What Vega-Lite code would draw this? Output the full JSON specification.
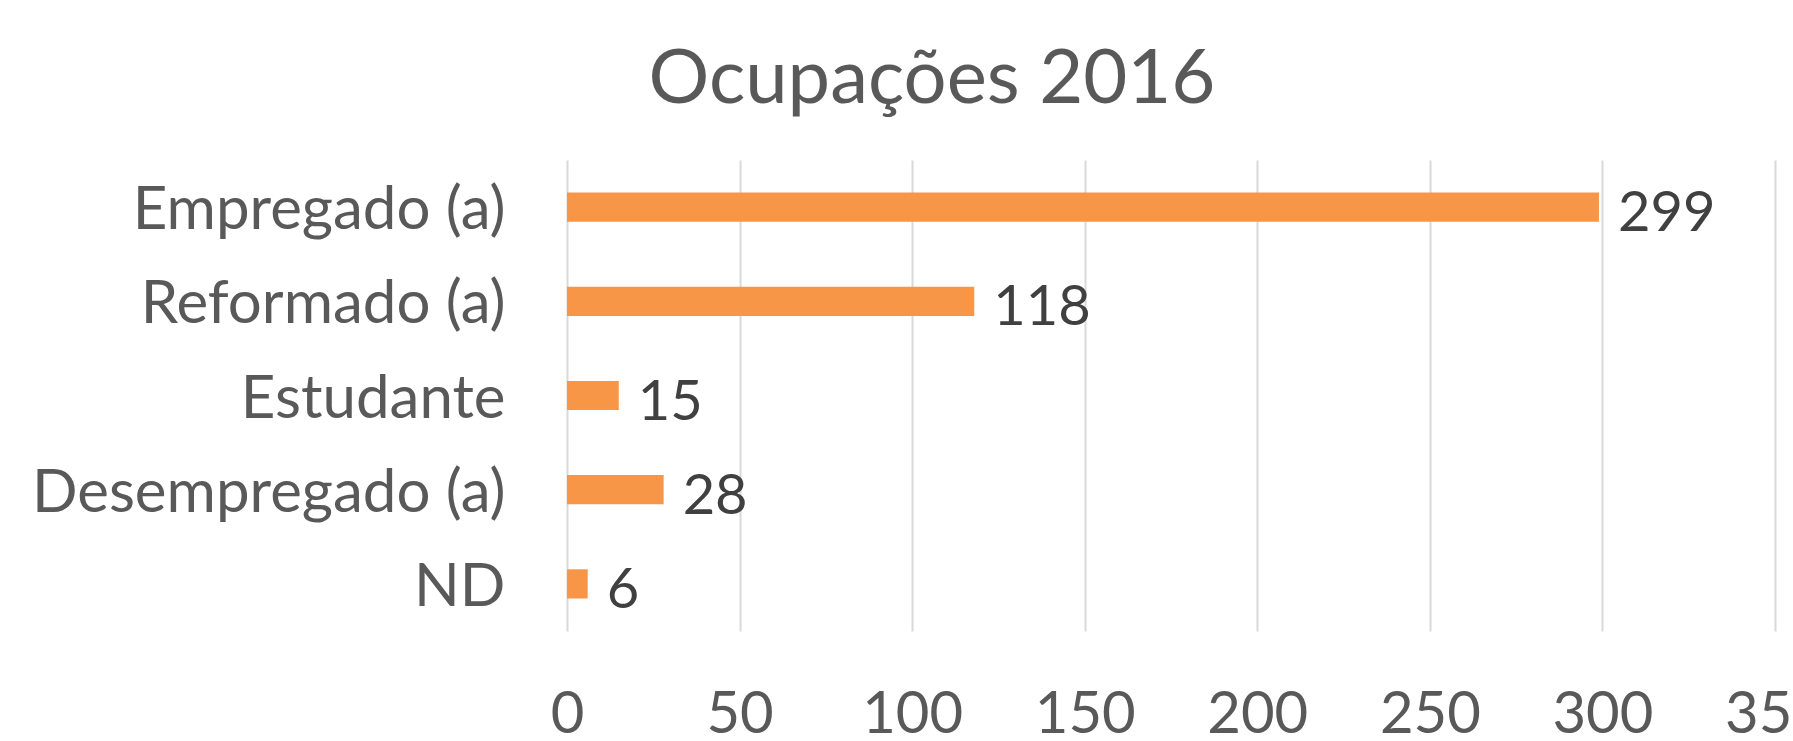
{
  "$schema": "https://vega.github.io/schema/vega-lite/v6.json",
  "autosize": "none",
  "width": 1208,
  "height": 471,
  "padding": {"left": 567, "top": 160, "right": 18, "bottom": 110},
  "background": "white",
  "title": {
    "text": "Ocupações 2016",
    "font": "Lato",
    "fontSize": 76,
    "fontWeight": "normal",
    "color": "#595959",
    "anchor": "middle",
    "frame": "group",
    "dx": -239,
    "baseline": "alphabetic",
    "offset": -19
  },
  "data": {
    "values": [
      {"ocupacao": "Empregado (a)", "valor": 299},
      {"ocupacao": "Reformado (a)", "valor": 118},
      {"ocupacao": "Estudante", "valor": 15},
      {"ocupacao": "Desempregado (a)", "valor": 28},
      {"ocupacao": "ND", "valor": 6}
    ]
  },
  "config": {"view": {"stroke": null}},
  "encoding": {
    "y": {
      "field": "ocupacao",
      "type": "nominal",
      "sort": null,
      "scale": {"paddingInner": 0.69, "paddingOuter": 0.345},
      "axis": {
        "title": null,
        "domain": false,
        "ticks": false,
        "tickSize": 0,
        "grid": false,
        "labelFont": "Lato",
        "labelFontSize": 60,
        "labelColor": "#595959",
        "labelBaseline": "alphabetic",
        "labelOffset": 22,
        "labelPadding": 62,
        "labelLimit": 1000
      }
    },
    "x": {
      "field": "valor",
      "type": "quantitative",
      "scale": {"domain": [0, 350], "nice": false},
      "axis": {
        "title": null,
        "values": [0, 50, 100, 150, 200, 250, 300, 350],
        "domain": false,
        "ticks": false,
        "tickSize": 0,
        "grid": true,
        "gridColor": "#D9D9D9",
        "gridWidth": 2,
        "labelFont": "Lato",
        "labelFontSize": 58,
        "labelColor": "#595959",
        "labelBaseline": "alphabetic",
        "labelPadding": 101,
        "labelFlush": false,
        "labelOverlap": false
      }
    }
  },
  "layer": [
    {"mark": {"type": "bar", "color": "#F79646"}},
    {
      "mark": {
        "type": "text",
        "align": "left",
        "baseline": "alphabetic",
        "dx": 19,
        "dy": 24,
        "font": "Lato",
        "fontSize": 56,
        "color": "#404040"
      },
      "encoding": {"text": {"field": "valor", "type": "quantitative"}}
    }
  ]
}
